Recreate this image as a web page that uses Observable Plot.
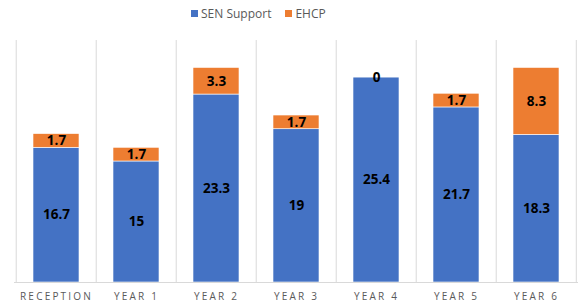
<!DOCTYPE html>
<html><head><meta charset="utf-8">
<script src="https://cdn.jsdelivr.net/npm/d3@7"></script>
<script src="https://cdn.jsdelivr.net/npm/@observablehq/plot@0.6"></script>
<style>
body{margin:0;background:#fff;font-family:"Open Sans",sans-serif;}
#legend{height:25px;display:flex;justify-content:flex-start;align-items:center;gap:14px;font-size:12px;color:#595959;padding-left:191px;padding-top:1px;box-sizing:border-box}
#legend span.sw{display:inline-block;width:7px;height:7px;margin-right:3px;vertical-align:middle;position:relative;top:-1px}
#chart svg{display:block}
g[aria-label="x-axis tick label"] text{letter-spacing:2.2px}
</style></head>
<body>
<div id="legend"></div>
<div id="chart"></div>
<script>
const categories = ["RECEPTION","YEAR 1","YEAR 2","YEAR 3","YEAR 4","YEAR 5","YEAR 6"];
const senSupport = [16.7, 15, 23.3, 19, 25.4, 21.7, 18.3];
const ehcp = [1.7, 1.7, 3.3, 1.7, 0, 1.7, 8.3];
const seriesNames = ["SEN Support","EHCP"];
const colors = ["#4472C4","#ED7D31"];

const data = [];
categories.forEach((c,i)=>{
  data.push({cat:c, series:seriesNames[0], value:senSupport[i]});
  data.push({cat:c, series:seriesNames[1], value:ehcp[i]});
});

const legend = document.getElementById("legend");
seriesNames.forEach((s,i)=>{
  const d = document.createElement("div");
  d.innerHTML = `<span class="sw" style="background:${colors[i]}"></span>${s}`;
  legend.appendChild(d);
});

const W = 578, marginLeft = 14, marginRight = 0;
const bw = (W - marginLeft - marginRight) / categories.length;

const chart = Plot.plot({
  width: W,
  height: 283,
  marginTop: 15,
  marginBottom: 26,
  marginLeft,
  marginRight,
  style: {fontFamily: "Open Sans, sans-serif", background: "#fff"},
  x: {domain: categories, paddingInner: 0.43, paddingOuter: 0.215, label: null},
  y: {domain: [0, 30], axis: null},
  color: {domain: seriesNames, range: colors},
  marks: [
    Plot.ruleX(categories, {x: d => d, dx: -bw/2, stroke: "#d9d9d9", strokeWidth: 1, strokeOpacity: 1}),
    Plot.ruleX([categories[categories.length-1]], {x: d => d, dx: bw/2 - 0.5, stroke: "#d9d9d9", strokeOpacity: 1}),
    Plot.barY(data, {x: "cat", y: "value", fill: "series", order: seriesNames, stroke: "white", strokeWidth: 0.6}),
    Plot.ruleY([0], {stroke: "#d9d9d9", strokeWidth: 1}),
    Plot.text(data, Plot.stackY({x: "cat", y: "value", z: "series", order: seriesNames, text: d => String(d.value), fill: "black", fontWeight: "bold", fontSize: 13.5})),
    Plot.axisX({tickSize: 0, tickPadding: 10, fontSize: 10, fill: "#595959", label: null})
  ]
});
document.getElementById("chart").appendChild(chart);
</script>
</body></html>
